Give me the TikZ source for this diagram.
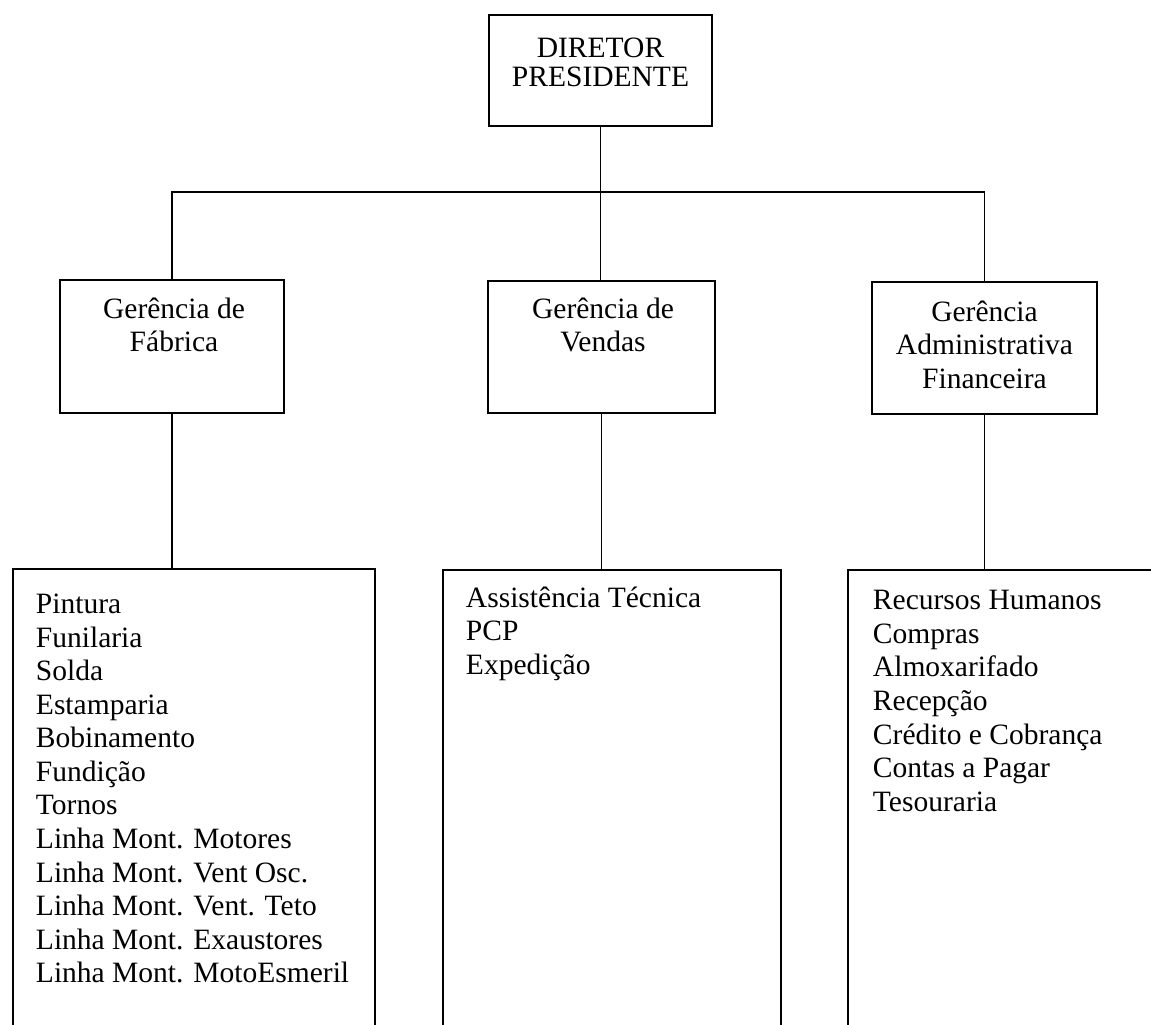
\documentclass[tikz,border=0pt]{standalone}
\usepackage{fontspec}
\setmainfont{Liberation Serif}
\usetikzlibrary{positioning}

\begin{document}
\begin{tikzpicture}[x=0.02cm, y=-0.02cm, line width=1.1pt,
    unit/.style={draw, rectangle, inner sep=0pt},
    title/.style={align=center, inner sep=0pt, anchor=base, font=\fontsize{16.8}{19.1}\selectfont},
    list/.style={align=left, inner sep=0pt, anchor=base west, font=\fontsize{16.8}{19.1}\selectfont}]
  \useasboundingbox (0,0) rectangle (1151,1024);
  \clip (0,0) rectangle (1151,1024);

  % boxes
  \node[unit, minimum width=4.46cm, minimum height=2.22cm] (dir) at (600.5,70.5) {};
  \node[unit, minimum width=4.48cm, minimum height=2.66cm] (fab) at (172,346.5) {};
  \node[unit, minimum width=4.54cm, minimum height=2.64cm] (ven) at (601.5,347) {};
  \node[unit, minimum width=4.50cm, minimum height=2.64cm] (adm) at (984.5,348) {};
  \node[unit, minimum width=7.24cm, minimum height=9.42cm] (fabl) at (194,804.5) {};
  \node[unit, minimum width=6.76cm, minimum height=9.42cm] (venl) at (612,805) {};
  \node[unit, minimum width=6.34cm, minimum height=9.42cm] (adml) at (1006.5,805) {};

  % texts (placed at the baseline of their last line)
  \node[title, font=\fontsize{16.8}{17}\selectfont] (dirtxt) at (600.5,87) {DIRETOR\\PRESIDENTE};
  \node[title] (fabtxt) at (174,351.7) {Gerência de\\Fábrica};
  \node[title] (ventxt) at (603,351.7) {Gerência de\\Vendas};
  \node[title] (admtxt) at (984.5,388.4) {Gerência\\Administrativa\\Financeira};
  \node[list] (fabitems) at (35,982.7) {Pintura\\Funilaria\\Solda\\Estamparia\\Bobinamento\\Fundição\\Tornos\\Linha Mont. Motores\\Linha Mont. Vent Osc.\\Linha Mont. Vent. Teto\\Linha Mont. Exaustores\\Linha Mont. MotoEsmeril};
  \node[list] (venitems) at (465,674.4) {Assistência Técnica\\PCP\\Expedição};
  \node[list] (admitems) at (872,811.2) {Recursos Humanos\\Compras\\Almoxarifado\\Recepção\\Crédito e Cobrança\\Contas a Pagar\\Tesouraria};

  % connectors
  \coordinate (bus) at (600.5,192);
  \draw (fab.north) |- (bus) -| (adm.north);
  \draw (dir.south) -- (dir.south |- ven.north);
  \draw (fab.south) -- (fab.south |- fabl.north);
  \draw (ven.south) -- (ven.south |- venl.north);
  \draw (adm.south) -- (adm.south |- adml.north);
\end{tikzpicture}
\end{document}
